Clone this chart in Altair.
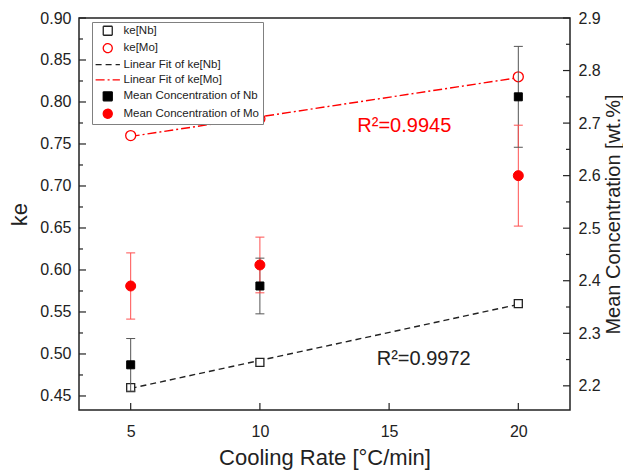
import altair as alt
import pandas as pd

# ---------------- data ----------------
rate = [5, 10, 20]
ke_nb = [0.46, 0.49, 0.56]
ke_mo = [0.76, 0.78, 0.83]

fit_rate = [5, 20]
fit_nb = [0.459, 0.559]
fit_mo = [0.759, 0.829]

conc_nb = [2.24, 2.39, 2.75]
conc_nb_err = [0.05, 0.053, 0.096]
conc_mo = [2.39, 2.43, 2.60]
conc_mo_err = [0.063, 0.053, 0.096]

series_names = [
    "ke[Nb]",
    "ke[Mo]",
    "Linear Fit of ke[Nb]",
    "Linear Fit of ke[Mo]",
    "Mean Concentration of Nb",
    "Mean Concentration of Mo",
]

r2_labels = ["R²=0.9945", "R²=0.9972"]
r2_rate = [13.77, 14.52]
r2_ke = [0.7646, 0.4869]

x_ticks = [5, 10, 15, 20]
ke_major = [0.45, 0.50, 0.55, 0.60, 0.65, 0.70, 0.75, 0.80, 0.85, 0.90]
ke_minor = [0.475, 0.525, 0.575, 0.625, 0.675, 0.725, 0.775, 0.825, 0.875]
conc_major = [2.2, 2.3, 2.4, 2.5, 2.6, 2.7, 2.8, 2.9]
conc_minor = [2.25, 2.35, 2.45, 2.55, 2.65, 2.75, 2.85]

# ---------------- styling ----------------
W, H = 491, 392
FONT = "Liberation Sans"
INK = "#222222"
RED = "#ff0000"

series_colors = [INK, RED, INK, RED, "#000000", RED]
series_fills = ["white", "white", "transparent", "transparent", "#000000", RED]
LINE_SYM = "M-2.7,0L2.7,0"
series_shapes = ["square", "circle", LINE_SYM, LINE_SYM, "square", "circle"]
series_dash = [[1, 0], [1, 0], [6, 4], [9, 3, 2, 3], [1, 0], [1, 0]]

legend = alt.Legend(
    title=None, orient="none", legendX=13, legendY=4, direction="vertical",
    labelFont=FONT, labelFontSize=11.5, labelColor=INK,
    symbolSize=81, symbolStrokeWidth=1.3, rowPadding=2.4, padding=3,
    symbolOffset=7, labelOffset=10,
    strokeColor="#808080", fillColor="white", cornerRadius=0,
)

color_enc = alt.Color("series:N", scale=alt.Scale(domain=series_names, range=series_colors), legend=legend)
fill_enc = alt.Fill("series:N", scale=alt.Scale(domain=series_names, range=series_fills), legend=legend)
shape_enc = alt.Shape("series:N", scale=alt.Scale(domain=series_names, range=series_shapes), legend=legend)
dash_enc = alt.StrokeDash("series:N", scale=alt.Scale(domain=series_names, range=series_dash), legend=legend)

x_axis = alt.Axis(
    values=x_ticks, title="Cooling Rate [°C/min]", grid=False, ticks=False, tickSize=0,
    domain=False, labelFont=FONT, labelFontSize=16, labelColor=INK, labelPadding=13,
    titleFont=FONT, titleFontSize=22, titleFontWeight="normal", titleColor=INK, titlePadding=8,
)
ke_axis = alt.Axis(
    values=ke_major, format=".2f", title="ke", orient="left", grid=False, ticks=False,
    tickSize=0, domain=False, labelFont=FONT, labelFontSize=16, labelColor=INK,
    labelPadding=8, titleFont=FONT, titleFontSize=22, titleFontWeight="normal",
    titleColor=INK, titlePadding=8,
)
conc_axis = alt.Axis(
    values=conc_major, format=".1f", title="Mean Concentration [wt.%]", orient="right",
    grid=False, ticks=False, tickSize=0, domain=False, labelFont=FONT, labelFontSize=16,
    labelColor=INK, labelPadding=8, titleFont=FONT, titleFontSize=20,
    titleFontWeight="normal", titleColor=INK, titlePadding=3, titleAngle=270,
    titleBaseline="top",
)

x_scale = alt.Scale(domain=[3, 22], nice=False, zero=False)
ke_scale = alt.Scale(domain=[0.4333, 0.9], nice=False, zero=False)
conc_scale = alt.Scale(domain=[2.154, 2.9], nice=False, zero=False)


def X(field):
    return alt.X(field, type="quantitative", scale=x_scale, axis=x_axis)


def YK(field):
    return alt.Y(field, type="quantitative", scale=ke_scale, axis=ke_axis)


def YC(field):
    return alt.Y(field, type="quantitative", scale=conc_scale, axis=conc_axis)


# ---------------- tables ----------------
ke_df = pd.DataFrame({
    "rate": rate * 2,
    "ke": ke_nb + ke_mo,
    "series": [series_names[0]] * 3 + [series_names[1]] * 3,
})
fit_df = pd.DataFrame({
    "rate": fit_rate * 2,
    "ke": fit_nb + fit_mo,
    "series": [series_names[2]] * 2 + [series_names[3]] * 2,
})
conc_df = pd.DataFrame({
    "rate": rate * 2,
    "conc": conc_nb + conc_mo,
    "err": conc_nb_err + conc_mo_err,
    "series": [series_names[4]] * 3 + [series_names[5]] * 3,
})
conc_df["lo"] = conc_df["conc"] - conc_df["err"]
conc_df["hi"] = conc_df["conc"] + conc_df["err"]

# ---------------- ke layers (left axis) ----------------
fit_lines = alt.Chart(fit_df).mark_line(strokeWidth=1.4).encode(
    x=X("rate"), y=YK("ke"), color=color_enc, strokeDash=dash_enc,
)

ke_sq = alt.Chart(ke_df).transform_filter(alt.datum.series == series_names[0]).mark_point(
    size=64, strokeWidth=1.3, opacity=1, filled=False
).encode(x=X("rate"), y=YK("ke"), color=color_enc, fill=fill_enc, shape=shape_enc)

ke_ci = alt.Chart(ke_df).transform_filter(alt.datum.series == series_names[1]).mark_point(
    size=100, strokeWidth=1.3, opacity=1, filled=False
).encode(x=X("rate"), y=YK("ke"), color=color_enc, fill=fill_enc, shape=shape_enc)

ke_major_rules = alt.Chart(pd.DataFrame({"ke": ke_major})).mark_rule(color=INK, strokeWidth=1.2).encode(
    y=YK("ke"), x=alt.value(0), x2=alt.value(7)
)
ke_minor_rules = alt.Chart(pd.DataFrame({"ke": ke_minor})).mark_rule(color=INK, strokeWidth=1.2).encode(
    y=YK("ke"), x=alt.value(0), x2=alt.value(4)
)
x_rules = alt.Chart(pd.DataFrame({"rate": x_ticks})).mark_rule(color=INK, strokeWidth=1.2).encode(
    x=X("rate"), y=alt.value(H), y2=alt.value(H - 7)
)

r2_red = alt.Chart(pd.DataFrame({"rate": r2_rate[:1], "ke": r2_ke[:1], "t": r2_labels[:1]})).mark_text(
    align="left", baseline="alphabetic", font=FONT, fontSize=20, color=RED
).encode(x=X("rate"), y=YK("ke"), text="t:N")
r2_blk = alt.Chart(pd.DataFrame({"rate": r2_rate[1:], "ke": r2_ke[1:], "t": r2_labels[1:]})).mark_text(
    align="left", baseline="alphabetic", font=FONT, fontSize=20, color=INK
).encode(x=X("rate"), y=YK("ke"), text="t:N")

left = alt.layer(fit_lines, ke_sq, ke_ci, ke_major_rules, ke_minor_rules, x_rules, r2_red, r2_blk)

# ---------------- concentration layers (right axis) ----------------
nb_df = conc_df[conc_df["series"] == series_names[4]]
mo_df = conc_df[conc_df["series"] == series_names[5]]

err_nb = alt.Chart(nb_df).mark_rule(color="#555555", strokeWidth=1).encode(
    x=X("rate"), y=YC("lo"), y2="hi"
)
err_mo = alt.Chart(mo_df).mark_rule(color="#ff5050", strokeWidth=1).encode(
    x=X("rate"), y=YC("lo"), y2="hi"
)
cap_nb = alt.layer(
    alt.Chart(nb_df).mark_tick(orient="horizontal", size=9, thickness=1, color="#555555", opacity=1).encode(x=X("rate"), y=YC("lo")),
    alt.Chart(nb_df).mark_tick(orient="horizontal", size=9, thickness=1, color="#555555", opacity=1).encode(x=X("rate"), y=YC("hi")),
)
cap_mo = alt.layer(
    alt.Chart(mo_df).mark_tick(orient="horizontal", size=9, thickness=1, color="#ff5050", opacity=1).encode(x=X("rate"), y=YC("lo")),
    alt.Chart(mo_df).mark_tick(orient="horizontal", size=9, thickness=1, color="#ff5050", opacity=1).encode(x=X("rate"), y=YC("hi")),
)

conc_sq = alt.Chart(nb_df).mark_point(size=64, strokeWidth=1, opacity=1, filled=False).encode(
    x=X("rate"), y=YC("conc"), color=color_enc, fill=fill_enc, shape=shape_enc
)
conc_ci = alt.Chart(mo_df).mark_point(size=100, strokeWidth=1, opacity=1, filled=False).encode(
    x=X("rate"), y=YC("conc"), color=color_enc, fill=fill_enc, shape=shape_enc
)

conc_major_rules = alt.Chart(pd.DataFrame({"conc": conc_major})).mark_rule(color=INK, strokeWidth=1.2).encode(
    y=YC("conc"), x=alt.value(W - 7), x2=alt.value(W)
)
conc_minor_rules = alt.Chart(pd.DataFrame({"conc": conc_minor})).mark_rule(color=INK, strokeWidth=1.2).encode(
    y=YC("conc"), x=alt.value(W - 4), x2=alt.value(W)
)

right = alt.layer(err_nb, err_mo, cap_nb, cap_mo, conc_sq, conc_ci, conc_major_rules, conc_minor_rules)

chart = (
    alt.layer(left, right)
    .resolve_scale(y="independent")
    .properties(
        width=W, height=H,
        autosize=alt.AutoSizeParams(type="none"),
        padding={"left": 71, "top": 10, "right": 53, "bottom": 60},
        background="white",
    )
    .configure_view(stroke=INK, strokeWidth=1.5)
)

chart.save("out.html", embed_options={"renderer": "svg", "actions": False})
